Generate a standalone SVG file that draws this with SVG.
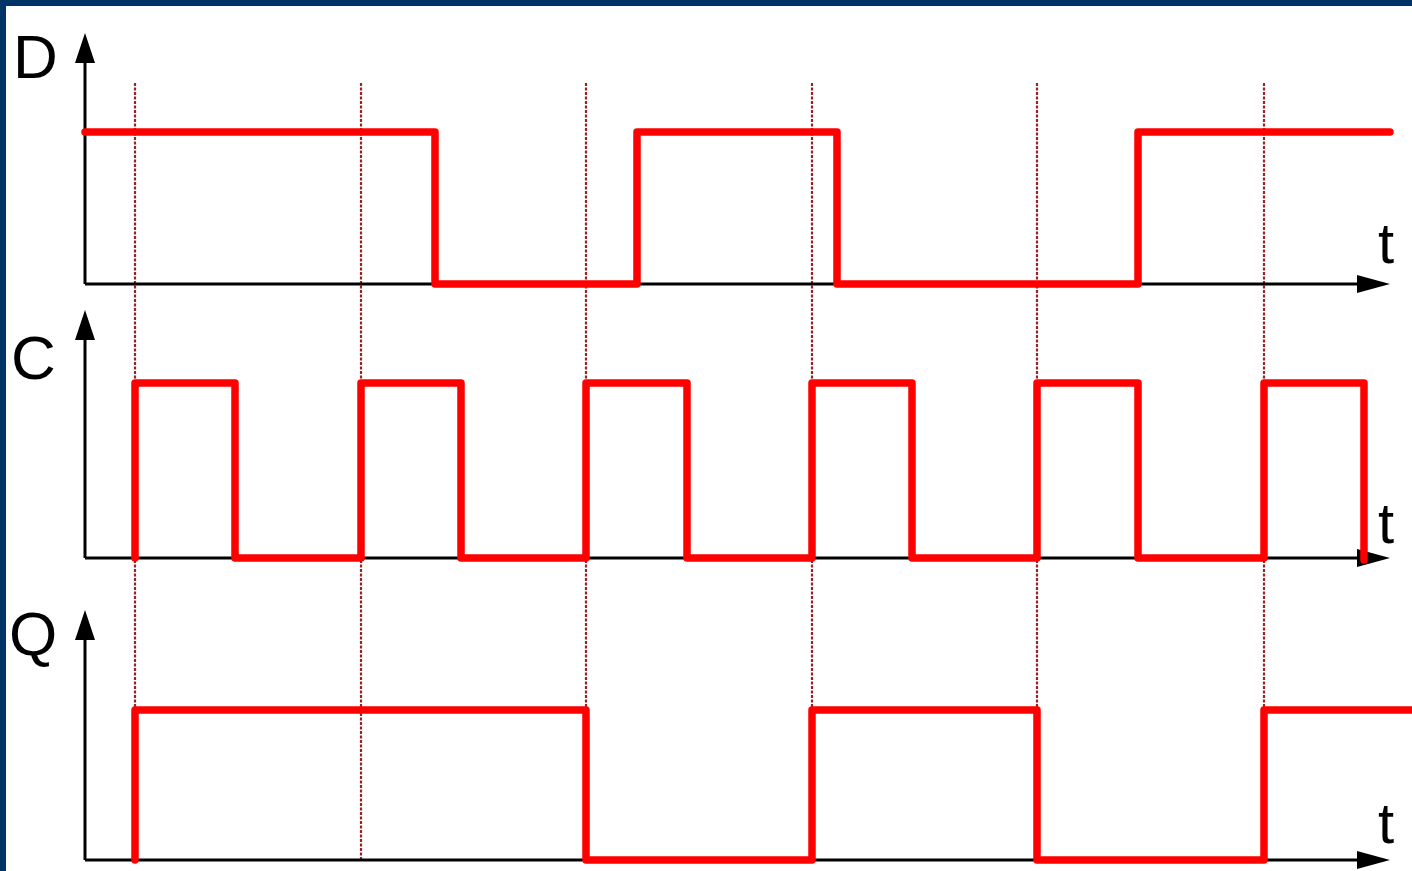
<svg xmlns="http://www.w3.org/2000/svg" width="1412" height="871" viewBox="0 0 1412 871">
<defs>
<style>
.axis{stroke:#000;stroke-width:3;fill:none}
.sig{stroke:#ff0000;stroke-width:7.5;fill:none;stroke-linejoin:round;stroke-linecap:round}
.grid{stroke:#9a2226;stroke-width:2.2;stroke-dasharray:3 1.5;fill:none}
.lbl{font-family:"Liberation Sans",Arial,sans-serif;font-size:62px;fill:#000}
.t{font-family:"Liberation Sans",Arial,sans-serif;font-size:58px;fill:#000}
</style>
</defs>
<rect x="0" y="0" width="1412" height="871" fill="#fff"/>
<rect x="0" y="0" width="1412" height="6" fill="#003366"/>
<rect x="0" y="0" width="6" height="871" fill="#003366"/>
<g id="gridlines">
<line class="grid" x1="135" y1="83" x2="135" y2="860"/>
<line class="grid" x1="361" y1="83" x2="361" y2="860"/>
<line class="grid" x1="586" y1="83" x2="586" y2="860"/>
<line class="grid" x1="812" y1="83" x2="812" y2="860"/>
<line class="grid" x1="1037" y1="83" x2="1037" y2="860"/>
<line class="grid" x1="1264" y1="83" x2="1264" y2="860"/>
</g>
<g id="axes">
<line class="axis" x1="85" y1="284" x2="85" y2="60"/>
<polygon points="85,33 75,63 95,63" fill="#000"/>
<line class="axis" x1="85" y1="284" x2="1360" y2="284"/>
<polygon points="1390,284 1357,275 1357,293" fill="#000"/>
<line class="axis" x1="85" y1="558" x2="85" y2="338"/>
<polygon points="85,310 75,340 95,340" fill="#000"/>
<line class="axis" x1="85" y1="558" x2="1360" y2="558"/>
<polygon points="1390,558 1357,549 1357,567" fill="#000"/>
<line class="axis" x1="85" y1="860" x2="85" y2="638"/>
<polygon points="85,610 75,640 95,640" fill="#000"/>
<line class="axis" x1="85" y1="860" x2="1360" y2="860"/>
<polygon points="1390,860 1357,851 1357,869" fill="#000"/>
</g>
<g id="D">
<text class="lbl" x="13" y="78">D</text>
<text class="t" x="1378" y="263">t</text>
<polyline class="sig" points="85,132 435,132 435,284 637,284 637,132 837,132 837,284 1138,284 1138,132 1390,132"/>
</g>
<g id="C">
<text class="lbl" x="11" y="379">C</text>
<text class="t" x="1378" y="543">t</text>
<polyline class="sig" points="135,558 135,383 235,383 235,558 361,558 361,383 461,383 461,558 586,558 586,383 687,383 687,558 812,558 812,383 912,383 912,558 1037,558 1037,383 1138,383 1138,558 1264,558 1264,383 1364,383 1364,560"/>
</g>
<g id="Q">
<text class="lbl" x="9" y="655">Q</text>
<text class="t" x="1378" y="843">t</text>
<polyline class="sig" points="135,860 135,710 586,710 586,860 812,860 812,710 1037,710 1037,860 1264,860 1264,710 1416,710"/>
</g>
</svg>
